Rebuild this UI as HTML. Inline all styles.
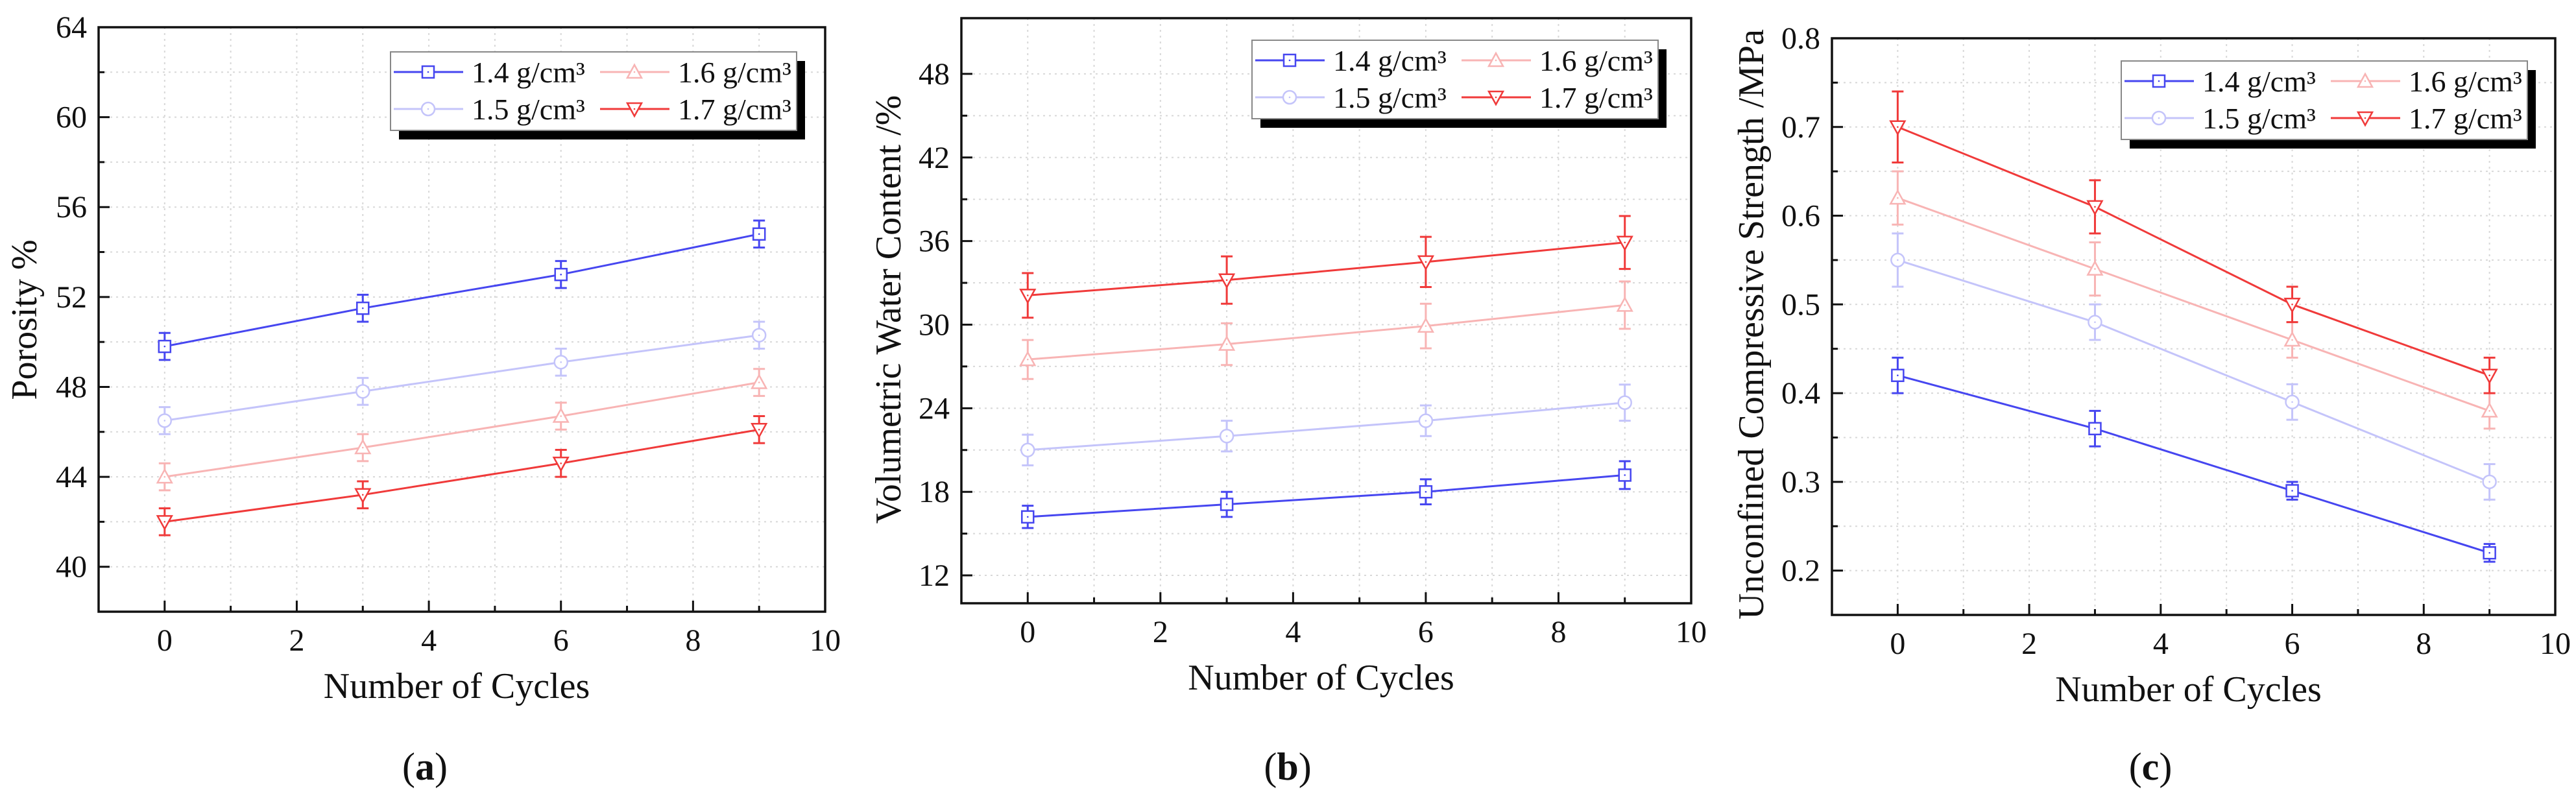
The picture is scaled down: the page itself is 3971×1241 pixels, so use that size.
<!DOCTYPE html>
<html><head><meta charset="utf-8"><style>
html,body{margin:0;padding:0;background:#fff;}
svg{display:block;font-family:"Liberation Serif",serif;}
</style></head><body>
<svg id="fig" width="3971" height="1241" viewBox="0 0 3971 1241" xmlns="http://www.w3.org/2000/svg"></svg>
<script>
const cycles = [0, 3, 6, 9];
const seriesNames = ["1.4 g/cm³", "1.5 g/cm³", "1.6 g/cm³", "1.7 g/cm³"];
const porosity14 = [49.8, 51.5, 53.0, 54.8];
const porosity15 = [46.5, 47.8, 49.1, 50.3];
const porosity16 = [44.0, 45.3, 46.7, 48.2];
const porosity17 = [42.0, 43.2, 44.6, 46.1];
const porosityErr = [0.6, 0.6, 0.6, 0.6];
const water14 = [16.2, 17.1, 18.0, 19.2];
const water15 = [21.0, 22.0, 23.1, 24.4];
const water16 = [27.5, 28.6, 29.9, 31.4];
const water17 = [32.1, 33.2, 34.5, 35.9];
const water14Err = [0.8, 0.9, 0.9, 1.0];
const water15Err = [1.1, 1.1, 1.1, 1.3];
const water16Err = [1.4, 1.5, 1.6, 1.7];
const water17Err = [1.6, 1.7, 1.8, 1.9];
const ucs14 = [0.42, 0.36, 0.29, 0.22];
const ucs15 = [0.55, 0.48, 0.39, 0.30];
const ucs16 = [0.62, 0.54, 0.46, 0.38];
const ucs17 = [0.70, 0.61, 0.50, 0.42];
const ucs14Err = [0.02, 0.02, 0.01, 0.01];
const ucs15Err = [0.03, 0.02, 0.02, 0.02];
const ucs16Err = [0.03, 0.03, 0.02, 0.02];
const ucs17Err = [0.04, 0.03, 0.02, 0.02];
const xTicks = [0, 2, 4, 6, 8, 10];
const porosityTicks = [40, 44, 48, 52, 56, 60, 64];
const waterTicks = [12, 18, 24, 30, 36, 42, 48];
const ucsTicks = [0.2, 0.3, 0.4, 0.5, 0.6, 0.7, 0.8];

const NS = "http://www.w3.org/2000/svg";
const svg = document.getElementById('fig');
const colors = ["#4646f0", "#c4c4fa", "#f8b4b4", "#f03a3a"];
const markers = ["square", "circle", "up", "down"];

function mk(tag, attrs, parent) {
  const e = document.createElementNS(NS, tag);
  for (const k in attrs) e.setAttribute(k, attrs[k]);
  (parent || svg).appendChild(e);
  return e;
}

function drawMarker(g, type, cx, cy, color) {
  const s = 9;
  let e;
  if (type === "square") e = mk('rect', {x: cx - s, y: cy - s, width: 2 * s, height: 2 * s}, g);
  else if (type === "circle") e = mk('circle', {cx: cx, cy: cy, r: s + 1}, g);
  else if (type === "up") e = mk('polygon', {points: `${cx},${cy - s - 2} ${cx - s - 2},${cy + s} ${cx + s + 2},${cy + s}`}, g);
  else e = mk('polygon', {points: `${cx},${cy + s + 2} ${cx - s - 2},${cy - s} ${cx + s + 2},${cy - s}`}, g);
  e.setAttribute('fill', '#fff');
  e.setAttribute('stroke', color);
  e.setAttribute('stroke-width', 2.5);
  
  
  const d = mk('circle', {cx: cx, cy: cy, r: 1.3, fill: color}, g);
  
  
}

function panel(cfg) {
  const g = mk('g', {});
  
  
  const L = cfg.left, R = cfg.right, T = cfg.top, B = cfg.bottom;
  const sx = v => L + (v - (-1)) / 11 * (R - L);
  const sy = v => B - (v - cfg.ymin) / (cfg.ymax - cfg.ymin) * (B - T);
  const grid = mk('g', {stroke: "#d8d8d8", "stroke-width": 2, "stroke-dasharray": "3,6"}, g);
  
  
  for (let x = 0; x <= 9; x++) {
    const gl = mk('line', {x1: sx(x), x2: sx(x), y1: T, y2: B}, grid);
    
    
  }
  const step = cfg.yticks[1] - cfg.yticks[0];
  for (let i = 0; i < cfg.yticks.length; i++) {
    for (const v of [cfg.yticks[i], cfg.yticks[i] - step / 2]) {
      if (v <= cfg.ymin || v >= cfg.ymax - 1e-9) continue;
      const gl = mk('line', {x1: L, x2: R, y1: sy(v), y2: sy(v)}, grid);
      
      
    }
  }
  const tk = mk('g', {stroke: "#111", "stroke-width": 3}, g);
  
  
  for (let x = 0; x <= 10; x++) {
    const len = x % 2 === 0 ? 17 : 9;
    const t = mk('line', {x1: sx(x), x2: sx(x), y1: B, y2: B - len}, tk);
    
    
  }
  for (let i = 0; i < cfg.yticks.length; i++) {
    const v = cfg.yticks[i];
    const t = mk('line', {x1: L, x2: L + 17, y1: sy(v), y2: sy(v)}, tk);
    
    
    const mv = v - step / 2;
    if (mv > cfg.ymin) {
      const m = mk('line', {x1: L, x2: L + 9, y1: sy(mv), y2: sy(mv)}, tk);
      
      
    }
  }
  for (const x of xTicks) {
    const t = mk('text', {x: sx(x), y: B + 60, "text-anchor": "middle", "font-size": 48, fill: "#111"}, g);
    t.textContent = x;
    
    
  }
  for (const v of cfg.yticks) {
    const t = mk('text', {x: L - 18, y: sy(v) + 16, "text-anchor": "end", "font-size": 48, fill: "#111"}, g);
    t.textContent = cfg.fmt(v);
    
    
  }
  cfg.series.forEach((vals, si) => {
    const sg = mk('g', {}, g);
    
    
    const col = colors[si];
    const pts = cycles.map((c, i) => sx(c) + "," + sy(vals[i])).join(" ");
    const pl = mk('polyline', {points: pts, fill: "none", stroke: col, "stroke-width": 3}, sg);
    
    
    cycles.forEach((c, i) => {
      const e = cfg.errs[si][i];
      const x = sx(c), y1 = sy(vals[i] + e), y2 = sy(vals[i] - e);
      const eb = mk('path', {d: `M${x},${y1}V${y2}M${x - 9},${y1}H${x + 9}M${x - 9},${y2}H${x + 9}`, stroke: col, "stroke-width": 3, fill: "none"}, sg);
      
      
    });
    cycles.forEach((c, i) => drawMarker(sg, markers[si], sx(c), sy(vals[i]), col));
  });
  const fr = mk('rect', {x: L, y: T, width: R - L, height: B - T, fill: "none", stroke: "#111", "stroke-width": 3.5}, g);
  
  
  const lg = mk('g', {}, g);
  
  
  const lx = cfg.legX, ly = cfg.legY, lw = 626, lh = 121;
  const sh = mk('rect', {x: lx + 13, y: ly + 14, width: lw, height: lh, fill: "#000"}, lg);
  
  
  const bx = mk('rect', {x: lx, y: ly, width: lw, height: lh, fill: "#fff", stroke: "#888", "stroke-width": 2}, lg);
  
  
  const pos = [[0, 0], [0, 1], [1, 0], [1, 1]];
  seriesNames.forEach((nm, si) => {
    const [col, row] = pos[si];
    const x0 = lx + (col ? 323 : 5), y0 = ly + (row ? 88 : 31);
    const eg = mk('g', {}, lg);
    
    
    mk('line', {x1: x0, x2: x0 + 107, y1: y0, y2: y0, stroke: colors[si], "stroke-width": 3}, eg);
    drawMarker(eg, markers[si], x0 + 53, y0, colors[si]);
    const t = mk('text', {x: x0 + 120, y: y0 + 16, "font-size": 46, fill: "#111"}, eg);
    t.textContent = nm;
    
    
  });
  const xt = mk('text', {x: (L + R) / 2 - 8, y: B + 133, "text-anchor": "middle", "font-size": 56, fill: "#111"}, g);
  xt.textContent = "Number of Cycles";
  
  
  const yt = mk('text', {x: 0, y: 0, "text-anchor": "middle", "font-size": 56, fill: "#111", transform: `translate(${cfg.ytX},${cfg.ytY}) rotate(-90)`}, g);
  yt.textContent = cfg.ytitle;
  
  
  const cap = mk('text', {x: cfg.capX, y: 1202, "text-anchor": "middle", "font-size": 60, fill: "#111"}, g);
  cap.innerHTML = '(<tspan font-weight="bold">' + cfg.cap + '</tspan>)';
  
  
}

panel({name: "porosity-chart", left: 152, right: 1272, top: 42, bottom: 943, ymin: 38, ymax: 64,
  yticks: porosityTicks, fmt: v => v, series: [porosity14, porosity15, porosity16, porosity17],
  errs: [porosityErr, porosityErr, porosityErr, porosityErr], legX: 602, legY: 80,
  ytitle: "Porosity %", ytX: 56, ytY: 493, capX: 655, cap: "a"});
panel({name: "water-content-chart", left: 1482, right: 2607, top: 28, bottom: 930, ymin: 10, ymax: 52,
  yticks: waterTicks, fmt: v => v, series: [water14, water15, water16, water17],
  errs: [water14Err, water15Err, water16Err, water17Err], legX: 1930, legY: 62,
  ytitle: "Volumetric Water Content /%", ytX: 1388, ytY: 477, capX: 1985, cap: "b"});
panel({name: "ucs-chart", left: 2824, right: 3939, top: 59, bottom: 948, ymin: 0.15, ymax: 0.8,
  yticks: ucsTicks, fmt: v => v.toFixed(1), series: [ucs14, ucs15, ucs16, ucs17],
  errs: [ucs14Err, ucs15Err, ucs16Err, ucs17Err], legX: 3270, legY: 94,
  ytitle: "Unconfined Compressive Strength /MPa", ytX: 2718, ytY: 500, capX: 3315, cap: "c"});
</script>
</body></html>
